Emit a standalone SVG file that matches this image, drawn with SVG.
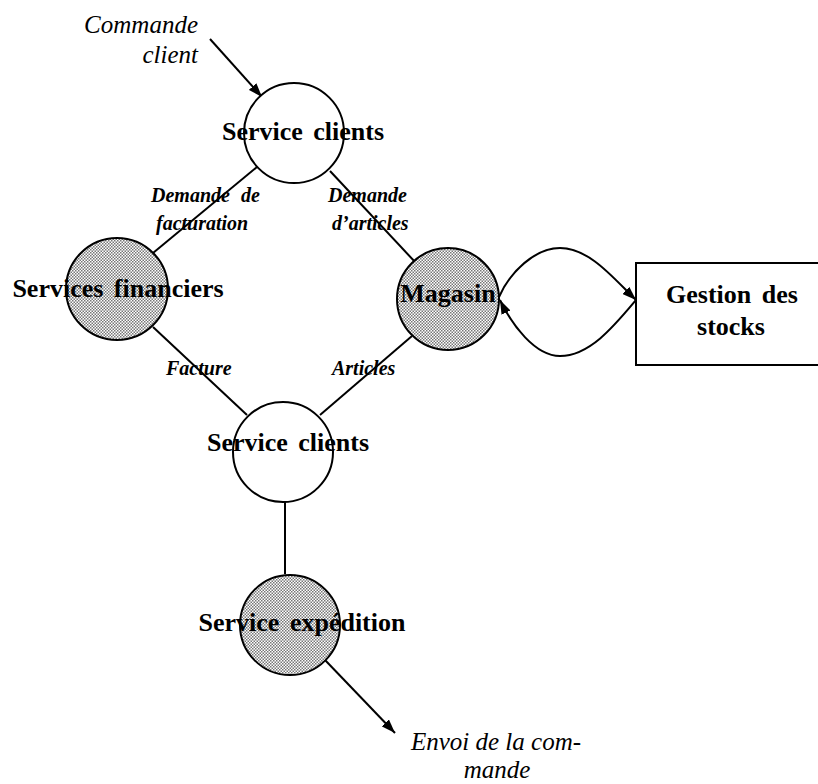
<svg xmlns="http://www.w3.org/2000/svg" width="818" height="784" viewBox="0 0 818 784">
<style>
.node{stroke:#000;stroke-width:2;fill:#fff}
.hatch{stroke:#000;stroke-width:2;fill:url(#dots)}
.lbl{font-family:"Liberation Serif","Times New Roman",serif;font-weight:bold;font-size:26px;fill:#000;text-anchor:middle;word-spacing:4px}
.flow{font-family:"Liberation Serif","Times New Roman",serif;font-weight:bold;font-style:italic;font-size:20px;fill:#000}
.ext{font-family:"Liberation Serif","Times New Roman",serif;font-style:italic;font-size:25px;fill:#000}
.con{stroke:#000;stroke-width:2;fill:none}
</style>
<defs>
<pattern id="dots" patternUnits="userSpaceOnUse" width="3" height="3">
<rect width="3" height="3" fill="#fff"/>
<rect width="1.5" height="1.5" fill="#777"/>
<rect x="1.5" y="1.5" width="1.5" height="1.5" fill="#777"/>
</pattern>
<marker id="arr" markerUnits="userSpaceOnUse" markerWidth="14" markerHeight="10" refX="14" refY="5" orient="auto">
<path d="M0,0 L14,5 L0,10 z" fill="#000"/>
</marker>
</defs>
<rect width="818" height="784" fill="#fff"/>

<g id="connectors">
<line class="con" x1="210" y1="39" x2="262" y2="97" marker-end="url(#arr)"/>
<line class="con" x1="257" y1="167" x2="153" y2="253"/>
<line class="con" x1="330" y1="171" x2="416" y2="263"/>
<line class="con" x1="153" y1="327" x2="247" y2="415"/>
<line class="con" x1="412" y1="336" x2="320" y2="415"/>
<line class="con" x1="285" y1="502" x2="285" y2="574"/>
<line class="con" x1="325" y1="660" x2="395" y2="733" marker-end="url(#arr)"/>
<path class="con" d="M499,297 C510,272 535,248 560,248 C590,248 615,280 636,300" marker-end="url(#arr)"/>
<path class="con" d="M636,300 C615,325 590,356 560,356 C535,356 512,325 500,300" marker-end="url(#arr)"/>
<text class="flow" x="151" y="202" word-spacing="6">Demande de</text>
<text class="flow" x="156" y="230">facturation</text>
<text class="flow" x="328" y="202">Demande</text>
<text class="flow" x="332" y="230">d’articles</text>
<text class="flow" x="166" y="375">Facture</text>
<text class="flow" x="332" y="375">Articles</text>
</g>

<g id="commande-client">
<text class="ext" x="198" y="33" text-anchor="end">Commande</text>
<text class="ext" x="198" y="63" text-anchor="end">client</text>
</g>

<g id="service-clients-1">
<circle class="node" cx="294" cy="133" r="50"/>
<text class="lbl" x="303" y="140">Service clients</text>
</g>

<g id="services-financiers">
<circle class="hatch" cx="117" cy="289" r="51"/>
<text class="lbl" x="118" y="297">Services financiers</text>
</g>

<g id="magasin">
<circle class="hatch" cx="448" cy="299" r="51"/>
<text class="lbl" x="448" y="302">Magasin</text>
</g>

<g id="gestion-stocks">
<rect class="node" x="636" y="263" width="200" height="102"/>
<text class="lbl" x="732" y="303">Gestion des</text>
<text class="lbl" x="731" y="335">stocks</text>
</g>

<g id="service-clients-2">
<circle class="node" cx="283" cy="452" r="50"/>
<text class="lbl" x="288" y="451">Service clients</text>
</g>

<g id="service-expedition">
<circle class="hatch" cx="290" cy="625" r="50"/>
<text class="lbl" x="302" y="631">Service expédition</text>
</g>

<g id="envoi-commande">
<text class="ext" x="496" y="750" text-anchor="middle">Envoi de la com-</text>
<text class="ext" x="497" y="778" text-anchor="middle">mande</text>
</g>
</svg>
